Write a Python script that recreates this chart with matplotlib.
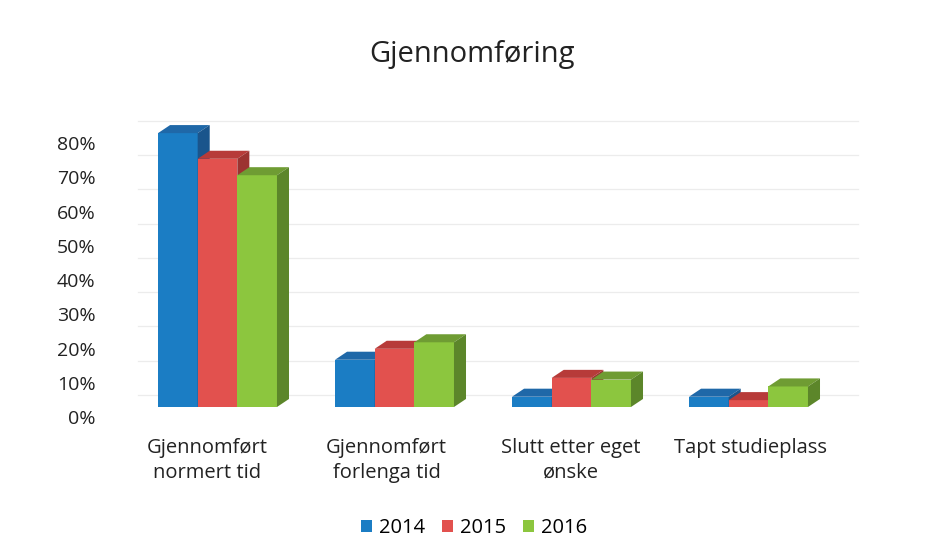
import numpy as np
import matplotlib
matplotlib.use("Agg")
import matplotlib.pyplot as plt
from matplotlib.patches import Polygon, Patch
from matplotlib.transforms import ScaledTranslation

# DATA
kategorier = ["Gjennomført\nnormert tid", "Gjennomført\nforlenga tid",
              "Slutt etter eget\nønske", "Tapt studieplass"]
aar = ["2014", "2015", "2016"]
v2014 = [80.0, 13.8, 3.0, 3.0]
v2015 = [72.5, 17.0, 8.5, 2.0]
v2016 = [67.7, 18.9, 8.0, 6.0]
serier = [v2014, v2015, v2016]
y_ticks = [0, 10, 20, 30, 40, 50, 60, 70, 80]

# farger: front, topp, side
farger = [("#1b7dc4", "#1f68a8", "#1a558c"),
          ("#e2514e", "#b73b39", "#9c3331"),
          ("#8cc63e", "#6f9c33", "#5c862a")]

plt.rcParams['font.family'] = ['Open Sans', 'DejaVu Sans']

fig = plt.figure(figsize=(9.26, 5.6), dpi=100)
ax = fig.add_axes([129/926, 153/560, 708/926, 291/560])

x = np.arange(len(kategorier))
w = 0.224
dx = 0.068   # dybde i x
dy = 2.35    # dybde i y (prosentpoeng)

ax.set_xlim(-0.5, 3.5)
ax.set_ylim(0, 85)

# svake gridlinjer på bakveggen
for t in y_ticks:
    ax.plot([-0.45, 3.62], [t + dy + 1.2, t + dy + 1.2], color="#ececec",
            lw=0.9, zorder=0, clip_on=False)

# tegner 3D-søyler
for i in range(len(kategorier)):
    for j, s in enumerate(serier):
        v = s[i]
        x0 = x[i] + (j - 1.5) * w
        x1 = x0 + w
        front, topp, side = farger[j]
        z = 2 + i * 10 + j * 3
        ax.add_patch(Polygon([(x0, 0), (x1, 0), (x1, v), (x0, v)],
                             closed=True, facecolor=front, edgecolor="none", zorder=z))
        ax.add_patch(Polygon([(x0, v), (x1, v), (x1 + dx, v + dy), (x0 + dx, v + dy)],
                             closed=True, facecolor=topp, edgecolor="none", zorder=z + 1))
        ax.add_patch(Polygon([(x1, 0), (x1 + dx, dy), (x1 + dx, v + dy), (x1, v)],
                             closed=True, facecolor=side, edgecolor="none", zorder=z + 2))

# akser
ax.set_yticks(y_ticks)
ax.set_yticklabels([f"{t}%" for t in y_ticks], fontsize=14, color="#222222")
ax.tick_params(axis="y", length=0, pad=24)
offset = ScaledTranslation(0, -10/100, fig.dpi_scale_trans)
for lab in ax.get_yticklabels():
    lab.set_transform(lab.get_transform() + offset)

# etikettene står litt skjevt i originalen
ax.set_xticks(x + np.array([-0.06, -0.045, -0.004, 0.013]))
ax.set_xticklabels(kategorier, fontsize=14.5, color="#222222", linespacing=1.35)
ax.tick_params(axis="x", length=0, pad=22)

for sp in ax.spines.values():
    sp.set_visible(False)

fig.text(472/926, 1 - 62/560, "Gjennomføring", fontsize=21, ha="center",
         va="baseline", color="#222222")

handles = [Patch(facecolor=farger[j][0], edgecolor="none") for j in range(3)]
fig.legend(handles, aar, loc="center", bbox_to_anchor=(474/926, 1 - 528/560),
           ncol=3, frameon=False, fontsize=14.5, handlelength=0.55, handleheight=0.55,
           handletextpad=0.35, columnspacing=0.85)

fig.savefig("out.png", dpi=100, facecolor="white")
